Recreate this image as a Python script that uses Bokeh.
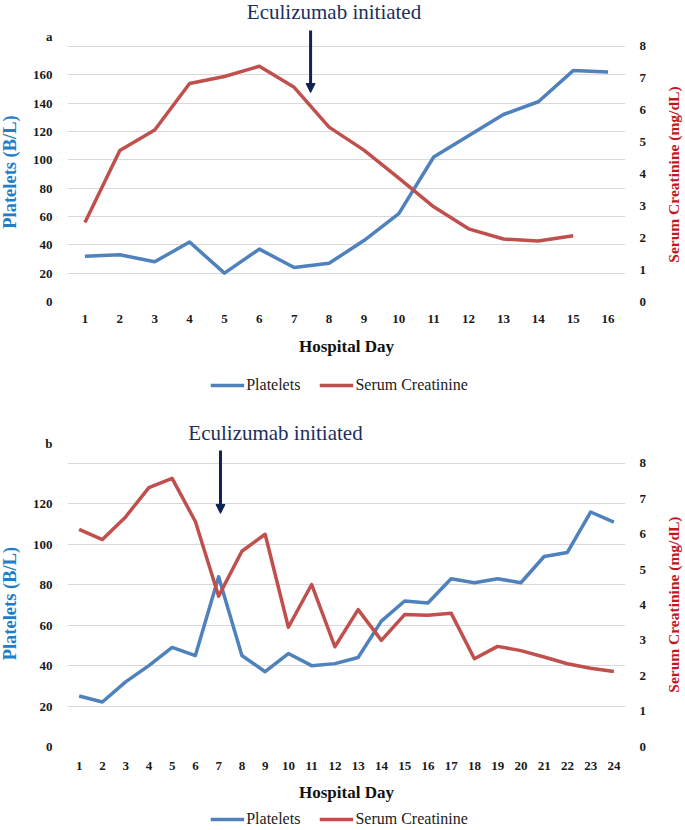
import math
from bokeh.plotting import figure
from bokeh.models import (Range1d, LinearAxis, FixedTicker, Arrow, Label,
                          NormalHead, Legend, LegendItem)
from bokeh.layouts import column, row
from bokeh.core.properties import value
from bokeh.embed import file_html
from bokeh.resources import INLINE

# ---------------- data ----------------
days_a = list(range(1, 17))
platelets_a = [32, 33, 28, 42, 20, 37, 24, 27, 43, 62, 102, 117, 132, 141, 163, 162]
days_cr_a = list(range(1, 16))
creatinine_a = [2.48, 4.74, 5.38, 6.84, 7.06, 7.38, 6.72, 5.47, 4.75, 3.87,
                2.97, 2.28, 1.96, 1.90, 2.06]

days_b = list(range(1, 25))
platelets_b = [25, 22, 32, 40, 49, 45, 84, 45, 37, 46, 40, 41, 44, 62, 72, 71,
               83, 81, 83, 81, 94, 96, 116, 111]
creatinine_b = [6.14, 5.85, 6.49, 7.32, 7.58, 6.36, 4.25, 5.52, 6.00, 3.37,
                4.58, 2.82, 3.87, 3.00, 3.73, 3.71, 3.77, 2.48, 2.83, 2.71,
                2.53, 2.34, 2.21, 2.12]

plt_ticks_a = [0, 20, 40, 60, 80, 100, 120, 140, 160]
plt_grid_a = plt_ticks_a + [180]
plt_ticks_b = [0, 20, 40, 60, 80, 100, 120]
plt_grid_b = plt_ticks_b + [140]
cr_ticks = [0, 1, 2, 3, 4, 5, 6, 7, 8]

series_names = ["Platelets", "Serum Creatinine"]
x_title = "Hospital Day"
y_title = "Platelets (B/L)"
y2_title = "Serum Creatinine (mg/dL)"
note = "Eculizumab initiated"

BLUE = "#4f81bd"
RED = "#c0504d"
BLUE_LBL = "#1f7ec6"
RED_LBL = "#c4161c"
NAVY = "#1b2f5e"
ARROW = "#0f2454"
SERIF = "Liberation Serif"
TXT = "#1a1a1a"
NAN = float("nan")


def blank(w, h, y_range=None):
    f = figure(width=w, height=h, x_range=Range1d(0, w),
               y_range=y_range if y_range is not None else Range1d(0, h),
               min_border=0, x_axis_location=None, y_axis_location=None,
               output_backend="svg", toolbar_location=None)
    f.outline_line_color = None
    f.grid.visible = False
    return f


def side_label(w, h, y_range, text, xpos, ypos, color, size):
    f = blank(w, h, y_range)
    f.text(x=[xpos], y=[ypos], text=[text], angle=math.pi / 2,
           text_align="center", text_baseline="middle",
           text_font=value(SERIF), text_font_style="bold",
           text_font_size=size, text_color=color)
    return f


def legend_fig(w, h):
    f = blank(w, h)
    r1 = f.line([NAN, NAN], [NAN, NAN], line_color=BLUE, line_width=3.5)
    r2 = f.line([NAN, NAN], [NAN, NAN], line_color=RED, line_width=3.5)
    leg = Legend(items=[LegendItem(label=series_names[0], renderers=[r1]),
                        LegendItem(label=series_names[1], renderers=[r2])],
                 orientation="horizontal", location="center",
                 glyph_width=34, glyph_height=14, label_standoff=2, spacing=19,
                 padding=0, margin=0, border_line_color=None,
                 background_fill_alpha=0,
                 label_text_font=SERIF, label_text_font_size="16px",
                 label_text_color=TXT)
    f.add_layout(leg, "center")
    return f


def panel(days, plt, days_cr, cr, ymax, crmax, ticks, grid, frame_h, bot_b,
          letter, letter_y, text_xy, arrow_x, arrow_y, xstand, xlstand):
    n = len(days)
    p = figure(frame_width=558, frame_height=frame_h,
               min_border_left=47, min_border_right=26,
               min_border_top=0, min_border_bottom=bot_b,
               x_range=Range1d(0.5, n + 0.5), y_range=Range1d(0, ymax),
               output_backend="svg", toolbar_location=None)
    p.extra_y_ranges = {"cr": Range1d(0, crmax)}
    p.outline_line_color = None
    p.xgrid.visible = False
    p.ygrid.ticker = FixedTicker(ticks=grid)
    p.ygrid.grid_line_color = "#d9d9d9"
    p.ygrid.grid_line_width = 1.2

    xa = p.xaxis[0]
    xa.ticker = FixedTicker(ticks=days)
    xa.axis_line_color = None
    xa.major_tick_line_color = None
    xa.minor_tick_line_color = None
    xa.major_label_standoff = xstand
    xa.major_label_text_font = SERIF
    xa.major_label_text_font_style = "bold"
    xa.major_label_text_font_size = "13px"
    xa.major_label_text_color = TXT
    xa.axis_label = x_title
    xa.axis_label_text_font = SERIF
    xa.axis_label_text_font_style = "bold"
    xa.axis_label_text_font_size = "17px"
    xa.axis_label_text_color = "#111111"
    xa.axis_label_standoff = xlstand

    ya = p.yaxis[0]
    ya.ticker = FixedTicker(ticks=ticks + [letter_y])
    ya.major_label_overrides = {letter_y: letter}
    ya.axis_line_color = None
    ya.major_tick_line_color = None
    ya.minor_tick_line_color = None
    ya.major_label_standoff = 9
    ya.major_label_text_font = SERIF
    ya.major_label_text_font_style = "bold"
    ya.major_label_text_font_size = "13px"
    ya.major_label_text_color = TXT

    ra = LinearAxis(y_range_name="cr", ticker=FixedTicker(ticks=cr_ticks))
    ra.axis_line_color = None
    ra.major_tick_line_color = None
    ra.minor_tick_line_color = None
    ra.major_label_standoff = 8
    ra.major_label_text_font = SERIF
    ra.major_label_text_font_style = "bold"
    ra.major_label_text_font_size = "13px"
    ra.major_label_text_color = TXT
    p.add_layout(ra, "right")

    p.line(days, plt, line_color=BLUE, line_width=3.5, line_join="round")
    p.line(days_cr, cr, line_color=RED, line_width=3.5, line_join="round",
           y_range_name="cr")

    p.add_layout(Label(x=text_xy[0], y=text_xy[1], text=note,
                       text_font=SERIF, text_font_size="21px",
                       text_color=NAVY, text_align="center",
                       text_baseline="middle"))
    p.add_layout(Arrow(x_start=arrow_x, y_start=arrow_y[0],
                       x_end=arrow_x, y_end=arrow_y[1],
                       line_color=ARROW, line_width=3,
                       end=NormalHead(size=9, fill_color=ARROW,
                                      line_color=ARROW)))
    return p


# top panel (a): frame 301 px tall, 1.41667 px per platelet unit
pa = panel(days_a, platelets_a, days_cr_a, creatinine_a, 212.47, 9.443,
           plt_ticks_a, plt_grid_a, 301, 66, "a", 187, (8.142, 204.0),
           7.47, (191.3, 147.5), 7, 11)
row_a = row(side_label(20, 367, pa.y_range, y_title, 9.5, 91.4, BLUE_LBL, "18.5px"),
            pa,
            side_label(33, 367, pa.y_range, y2_title, 22, 89.6, RED_LBL, "15.5px"),
            spacing=0)

# bottom panel (b): frame 343 px tall, 2.02143 px per platelet unit
pb = panel(days_b, platelets_b, days_b, creatinine_b, 169.68, 9.696,
           plt_ticks_b, plt_grid_b, 343, 59, "b", 150, (9.446, 155.3),
           7.08, (146.4, 115.3), 9, 10)
row_b = row(side_label(20, 402, pb.y_range, y_title, 9.5, 70.7, BLUE_LBL, "18.5px"),
            pb,
            side_label(33, 402, pb.y_range, y2_title, 22, 70.2, RED_LBL, "15.5px"),
            spacing=0)

layout = column(row_a, legend_fig(678, 36), row_b, legend_fig(678, 28),
                spacing=0)
open("out.html", "w").write(file_html(layout, INLINE))
